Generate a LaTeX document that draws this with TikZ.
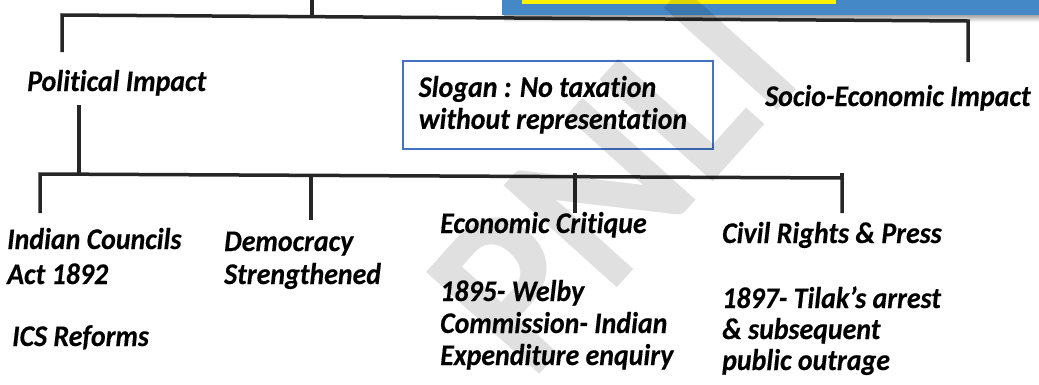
\documentclass[tikz,border=0pt]{standalone}
\usepackage{fontspec}
\setmainfont{Carlito}[FakeStretch=0.93, Ligatures=NoCommon, BoldItalicFeatures={FakeBold=0.3}]
\usetikzlibrary{positioning}
\definecolor{boxblue}{RGB}{68,136,200}
\definecolor{slogblue}{RGB}{68,114,196}
\definecolor{linedark}{RGB}{38,38,38}
\newcommand\leaffont[1]{\fontsize{30}{#1}\selectfont\bfseries\itshape}

\tikzset{
  treeline/.style={draw=linedark, line width=3.5pt, line join=miter},
  leaf/.style={font=\leaffont{33}, inner sep=0pt, anchor=base west, align=left},
  slogbox/.style={draw=slogblue, line width=1.5pt, anchor=north west, minimum width=310pt, minimum height=88pt,
    text width=278pt, inner xsep=16pt, inner ysep=0pt, align=flush left, font=\leaffont{32}},
  wmark/.style={font=\fontsize{235}{235}\selectfont\bfseries, text=black, text opacity=0.12, rotate=48}
}

\begin{document}
\begin{tikzpicture}[x=1pt,y=-1pt]
  \useasboundingbox (0,0) rectangle (1039,384);

  % Title box, cut off at the top
  \shade[top color=black!45, bottom color=white] (504,13) rectangle (1045,22);
  \fill[boxblue] (502,-5) rectangle (1045,15);
  \fill[yellow] (522,-5) rectangle (836,3.5);

  % Level 1
  \coordinate (root) at (312,0);
  \coordinate (busL) at (62,15);
  \coordinate (busR) at (968,21);
  \coordinate (polEnd) at (62,52);
  \coordinate (socEnd) at (968,62);
  \draw[treeline] (root) -- (root |- busL);
  \draw[treeline] (polEnd) -- (busL) -- (busR) -- (socEnd);

  \node[leaf] (pol) at (27,91) {Political Impact};
  \node[slogbox] (slogan) at (402,60) {Slogan : No taxation\\without representation};
  \node[leaf] (soc) at (765,106) {Socio-Economic Impact};

  % Level 2
  \coordinate (polStem) at (79,105);
  \coordinate (busL2) at (40,174);
  \coordinate (busR2) at (842,178);
  \coordinate (icaEnd) at (40,213);
  \coordinate (demTop) at (311,175);
  \coordinate (demEnd) at (311,220);
  \coordinate (ecoTop) at (575,173);
  \coordinate (ecoEnd) at (575,213);
  \coordinate (civTop) at (842,173);
  \coordinate (civEnd) at (842,213);
  \draw[treeline] (polStem) -- (polStem |- busL2);
  \draw[treeline] (icaEnd) -- (busL2) -- (busR2) -- (civEnd);
  \draw[treeline] (civTop) -- (busR2);
  \draw[treeline] (demTop) -- (demEnd);
  \draw[treeline] (ecoTop) -- (ecoEnd);

  % multi-line leaves sit on the baseline of their last line
  \node[leaf, font=\leaffont{35}] (ica) at (7,284) {Indian Councils\\Act 1892};
  \node[leaf] (ics) at (12,346) {ICS Reforms};
  \node[leaf] (dem) at (224,284) {Democracy\\Strengthened};
  \node[leaf] (eco) at (440,233) {Economic Critique};
  \node[leaf, font=\leaffont{32}] (welby) at (440,365) {1895- Welby\\Commission- Indian\\Expenditure enquiry};
  \node[leaf] (civ) at (722,243) {Civil Rights \& Press};
  \node[leaf, font=\leaffont{31}] (tilak) at (722,370) {1897- Tilak’s arrest\\\& subsequent\\public outrage};

  % Watermark
  \node[wmark] (mark) at (612,180) {PNLI};
\end{tikzpicture}
\end{document}
